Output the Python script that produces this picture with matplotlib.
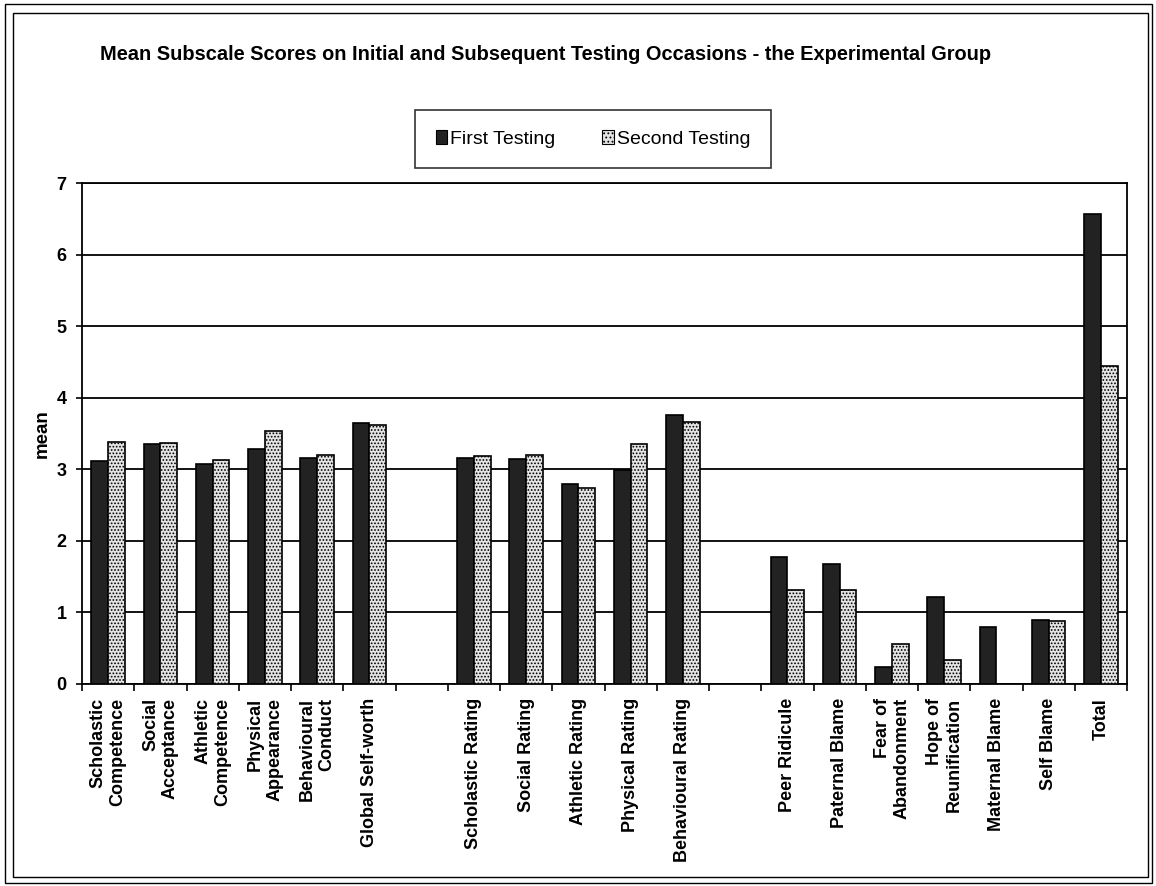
import matplotlib
matplotlib.use('Agg')
import matplotlib.pyplot as plt
from matplotlib import font_manager
from matplotlib.patches import Rectangle, Patch
import numpy as np

plt.rcParams['font.family'] = 'Liberation Sans'
plt.rcParams['hatch.linewidth'] = 0.8

installed = {f.name for f in font_manager.fontManager.ttflist}
narrow = 'Liberation Sans Narrow' if 'Liberation Sans Narrow' in installed else 'Liberation Sans'

# Subscales, in three blocks separated by an empty slot
self_perception = ['Scholastic\nCompetence', 'Social\nAcceptance', 'Athletic\nCompetence',
                   'Physical\nAppearance', 'Behavioural\nConduct', 'Global Self-worth']
ratings = ['Scholastic Rating', 'Social Rating', 'Athletic Rating',
           'Physical Rating', 'Behavioural Rating']
beliefs = ['Peer Ridicule', 'Paternal Blame', 'Fear of\nAbandonment', 'Hope of\nReunification',
           'Maternal Blame', 'Self Blame', 'Total']

first_testing = [3.12, 3.35, 3.08, 3.29, 3.16, 3.65,
                 3.16, 3.14, 2.79, 2.99, 3.76,
                 1.78, 1.68, 0.24, 1.22, 0.80, 0.89, 6.57]
second_testing = [3.38, 3.37, 3.13, 3.54, 3.20, 3.62,
                  3.18, 3.20, 2.74, 3.35, 3.66,
                  1.32, 1.32, 0.56, 0.33, 0.0, 0.88, 4.44]

labels = self_perception + ratings + beliefs

# slot positions: one blank slot between blocks
x = []
start = 0
for block in (self_perception, ratings, beliefs):
    x.extend(start + np.arange(len(block)))
    start += len(block) + 1
x = np.array(x, dtype=float)
n_slots = start - 1

fig = plt.figure(figsize=(11.56, 8.86), dpi=100)

# double border round the whole chart
W, H = 1156, 886
for (x0, y0, x1, y1) in [(5, 4, 1152, 883), (13, 13, 1148, 877)]:
    fig.add_artist(Rectangle((x0 / W, 1 - y1 / H), (x1 - x0) / W, (y1 - y0) / H,
                             transform=fig.transFigure, fill=False,
                             edgecolor='black', linewidth=1.0))

ax = fig.add_axes([82 / W, 1 - 684 / H, 1045 / W, (684 - 183) / H])

bw = 0.32
ax.bar(x + 0.5 - bw / 2, first_testing, width=bw, color='#222222',
       edgecolor='black', linewidth=1.2, zorder=3, label='First Testing')
ax.bar(x + 0.5 + bw / 2, second_testing, width=bw, color='#e4e4e4',
       edgecolor='black', linewidth=1.2, hatch='.....', zorder=3, label='Second Testing')

ax.set_xlim(0, n_slots)
ax.set_ylim(0, 7)
ax.set_yticks(range(0, 8))
ax.yaxis.grid(True, color='black', linewidth=1.3, zorder=1)
ax.set_axisbelow(True)
for s in ax.spines.values():
    s.set_linewidth(1.3)

ax.set_xticks(x + 0.5)
ax.set_xticklabels(labels, rotation=90, fontsize=13, fontweight='bold',
                   ha='center', va='top', multialignment='right')
ax.set_xticks(np.arange(0, n_slots + 1), minor=True)
ax.tick_params(axis='x', which='major', length=0, pad=10)
ax.tick_params(axis='x', which='minor', length=5, width=1.2, direction='out')
ax.tick_params(axis='y', length=4, width=1.2, pad=7, labelsize=13)
for t in ax.get_yticklabels():
    t.set_fontweight('bold')
ax.set_ylabel('mean', fontsize=13.5, fontweight='bold', labelpad=4)

fig.text(546 / W, 1 - 55 / H,
         'Mean Subscale Scores on Initial and Subsequent Testing Occasions - the Experimental Group',
         ha='center', va='center', fontsize=14.4, fontweight='bold', family=narrow)

handles = [Patch(facecolor='#222222', edgecolor='black', linewidth=0.8),
           Patch(facecolor='#e4e4e4', edgecolor='black', linewidth=0.8, hatch='....')]
leg = fig.legend(handles, ['First Testing', 'Second Testing'], loc='center',
                 bbox_to_anchor=(593 / W, 1 - 139 / H), ncol=2, frameon=True,
                 fancybox=False, edgecolor='black', borderpad=1.05,
                 handlelength=0.6, handleheight=0.7, handletextpad=0.15,
                 columnspacing=2.4, prop={'family': narrow, 'size': 14})
leg.get_frame().set_linewidth(1.2)

fig.savefig('out.png', dpi=100, facecolor='white')
